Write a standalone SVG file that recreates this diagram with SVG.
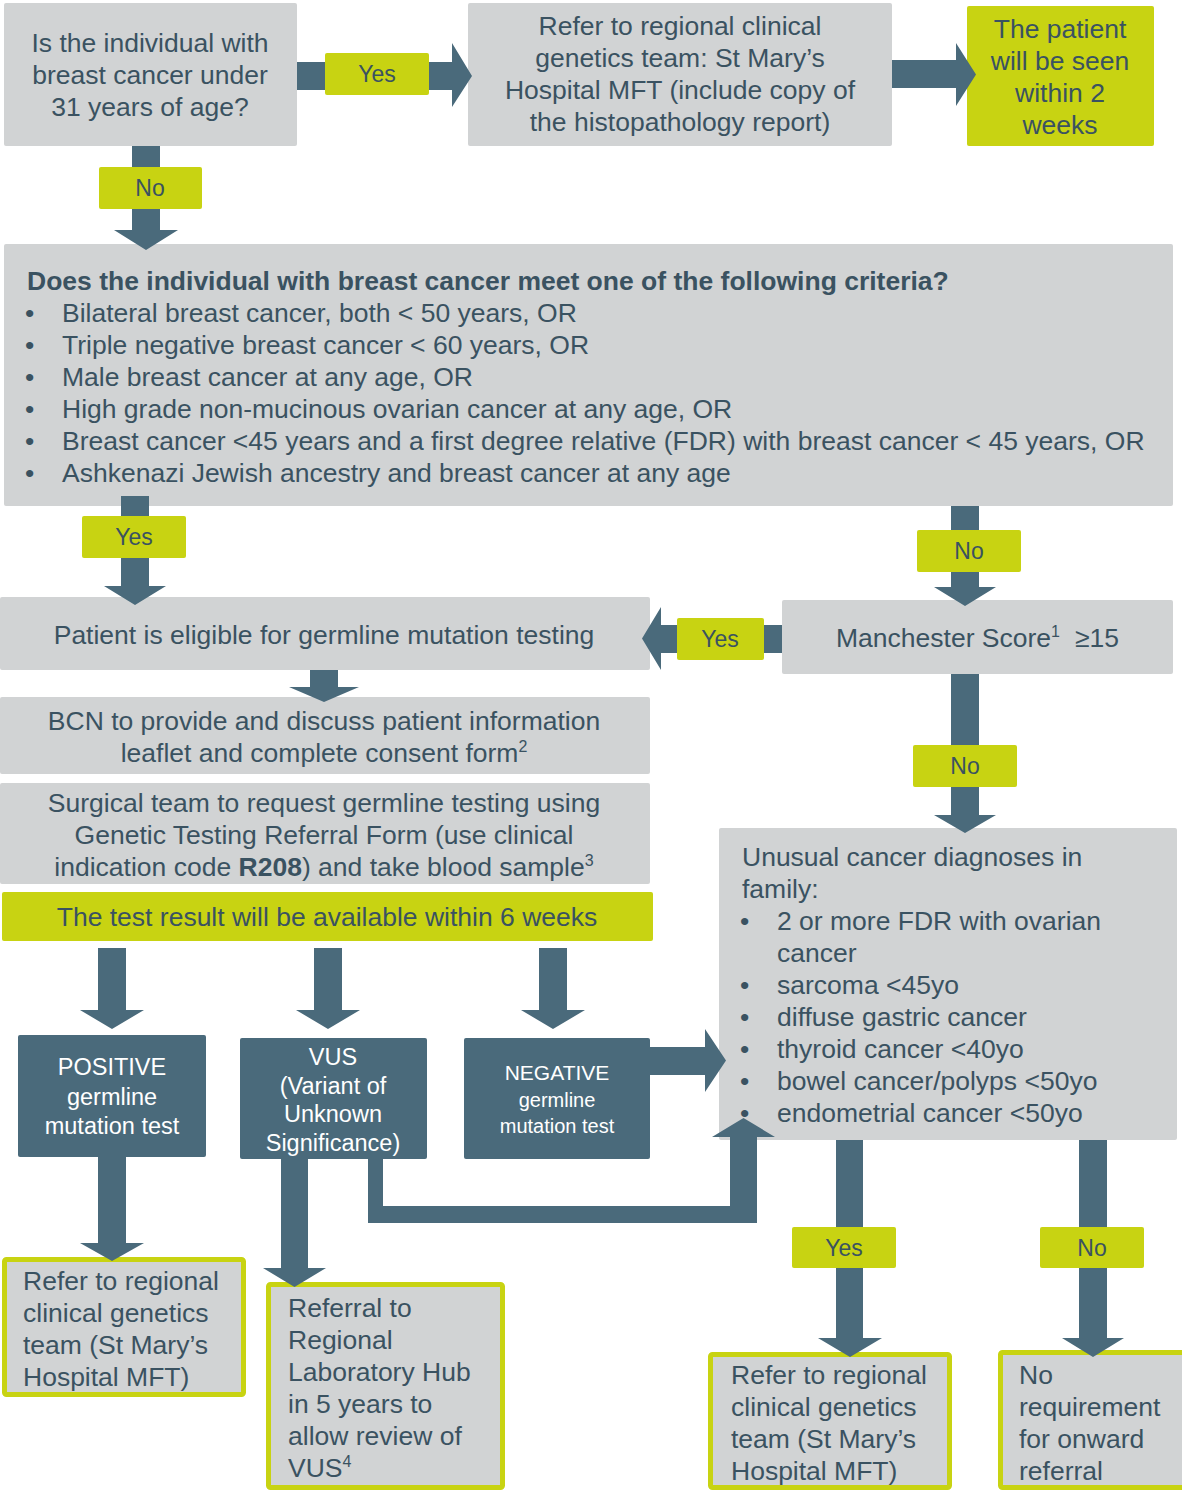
<svg xmlns="http://www.w3.org/2000/svg" width="1182" height="1490" viewBox="0 0 1182 1490">
<style>
text{font-family:"Liberation Sans",Arial,sans-serif;font-size:26.5px;fill:#3A5261}
.c{text-anchor:middle}
.b{font-weight:bold}
.w{fill:#FFFFFF}
.grey{fill:#D1D3D4}
.lime{fill:#C8D312}
.dark{fill:#4A6A7B}
.out{fill:#D1D3D4;stroke:#C8D312;stroke-width:5}
.arrow{fill:#4A6A7B}
.sup{font-size:16px}
.lbl{font-size:23px}
</style>
<defs>
<clipPath id="vusclip"><rect x="240" y="1038" width="187" height="121"/></clipPath>
</defs>
<rect width="1182" height="1490" fill="#FFFFFF"/>

<g id="q31">
<rect class="grey" x="4" y="3" width="293" height="143" rx="2"/>
<text class="c" x="150" y="52">Is the individual with</text>
<text class="c" x="150" y="84">breast cancer under</text>
<text class="c" x="150" y="116">31 years of age?</text>
</g>

<g id="refer-top">
<rect class="grey" x="468" y="3" width="424" height="143" rx="2"/>
<text class="c" x="680" y="35">Refer to regional clinical</text>
<text class="c" x="680" y="67">genetics team: St Mary’s</text>
<text class="c" x="680" y="99">Hospital MFT (include copy of</text>
<text class="c" x="680" y="131">the histopathology report)</text>
</g>

<g id="seen2weeks">
<rect class="lime" x="967" y="6" width="187" height="140" rx="2"/>
<text class="c" x="1060" y="38">The patient</text>
<text class="c" x="1060" y="70">will be seen</text>
<text class="c" x="1060" y="102">within 2</text>
<text class="c" x="1060" y="134">weeks</text>
</g>

<g id="criteria">
<rect class="grey" x="4" y="244" width="1169" height="262" rx="2"/>
<text class="b" x="27" y="290">Does the individual with breast cancer meet one of the following criteria?</text>
<text x="25" y="322">•</text><text x="62" y="322">Bilateral breast cancer, both &lt; 50 years, OR</text>
<text x="25" y="354">•</text><text x="62" y="354">Triple negative breast cancer &lt; 60 years, OR</text>
<text x="25" y="386">•</text><text x="62" y="386">Male breast cancer at any age, OR</text>
<text x="25" y="418">•</text><text x="62" y="418">High grade non-mucinous ovarian cancer at any age, OR</text>
<text x="25" y="450">•</text><text x="62" y="450">Breast cancer &lt;45 years and a first degree relative (FDR) with breast cancer &lt; 45 years, OR</text>
<text x="25" y="482">•</text><text x="62" y="482">Ashkenazi Jewish ancestry and breast cancer at any age</text>
</g>

<g id="eligible">
<rect class="grey" x="0" y="597" width="650" height="73" rx="2"/>
<text class="c" x="324" y="644">Patient is eligible for germline mutation testing</text>
</g>

<g id="manchester">
<rect class="grey" x="782" y="600" width="391" height="74" rx="2"/>
<text x="836" y="647">Manchester Score<tspan class="sup" dy="-10">1</tspan><tspan dy="10" dx="15">≥15</tspan></text>
</g>

<g id="bcn">
<rect class="grey" x="0" y="697" width="650" height="77" rx="2"/>
<text class="c" x="324" y="730">BCN to provide and discuss patient information</text>
<text class="c" x="324" y="762">leaflet and complete consent form<tspan class="sup" dy="-10">2</tspan></text>
</g>

<g id="surgical">
<rect class="grey" x="0" y="783" width="650" height="101" rx="2"/>
<text class="c" x="324" y="812">Surgical team to request germline testing using</text>
<text class="c" x="324" y="844">Genetic Testing Referral Form (use clinical</text>
<text class="c" x="324" y="876">indication code <tspan class="b">R208</tspan>) and take blood sample<tspan class="sup" dy="-10">3</tspan></text>
</g>

<g id="six-weeks">
<rect class="lime" x="2" y="892" width="651" height="49" rx="2"/>
<text class="c" x="327" y="926">The test result will be available within 6 weeks</text>
</g>

<g id="unusual">
<rect class="grey" x="719" y="828" width="458" height="312" rx="2"/>
<text x="742" y="866">Unusual cancer diagnoses in</text>
<text x="742" y="898">family:</text>
<text x="740" y="930">•</text><text x="777" y="930">2 or more FDR with ovarian</text>
<text x="777" y="962">cancer</text>
<text x="740" y="994">•</text><text x="777" y="994">sarcoma &lt;45yo</text>
<text x="740" y="1026">•</text><text x="777" y="1026">diffuse gastric cancer</text>
<text x="740" y="1058">•</text><text x="777" y="1058">thyroid cancer &lt;40yo</text>
<text x="740" y="1090">•</text><text x="777" y="1090">bowel cancer/polyps &lt;50yo</text>
<text x="740" y="1122">•</text><text x="777" y="1122">endometrial cancer &lt;50yo</text>
</g>

<g id="positive">
<rect class="dark" x="18" y="1035" width="188" height="122" rx="2"/>
<text class="c w" x="112" y="1075" style="font-size:23.5px">POSITIVE</text>
<text class="c w" x="112" y="1105" style="font-size:23.5px">germline</text>
<text class="c w" x="112" y="1134" style="font-size:23.5px">mutation test</text>
</g>

<g id="vus">
<rect class="dark" x="240" y="1038" width="187" height="121" rx="2"/>
<g clip-path="url(#vusclip)">
<text class="c w" x="333" y="1065" style="font-size:23.5px">VUS</text>
<text class="c w" x="333" y="1094" style="font-size:23.5px">(Variant of</text>
<text class="c w" x="333" y="1122" style="font-size:23.5px">Unknown</text>
<text class="c w" x="333" y="1151" style="font-size:23.5px">Significance)</text>
</g>
</g>

<g id="negative">
<rect class="dark" x="464" y="1038" width="186" height="121" rx="2"/>
<text class="c w" x="557" y="1080" style="font-size:21px">NEGATIVE</text>
<text class="c w" x="557" y="1107" style="font-size:20px">germline</text>
<text class="c w" x="557" y="1133" style="font-size:20px">mutation test</text>
</g>

<g id="refer-positive">
<rect class="out" x="4.5" y="1259.5" width="239" height="135" rx="2"/>
<text x="23" y="1290">Refer to regional</text>
<text x="23" y="1322">clinical genetics</text>
<text x="23" y="1354">team (St Mary’s</text>
<text x="23" y="1386">Hospital MFT)</text>
</g>

<g id="referral-hub">
<rect class="out" x="268.5" y="1284.5" width="234" height="203" rx="2"/>
<text x="288" y="1317">Referral to</text>
<text x="288" y="1349">Regional</text>
<text x="288" y="1381">Laboratory Hub</text>
<text x="288" y="1413">in 5 years to</text>
<text x="288" y="1445">allow review of</text>
<text x="288" y="1477">VUS<tspan class="sup" dy="-10">4</tspan></text>
</g>

<g id="refer-unusual">
<rect class="out" x="710.5" y="1354.5" width="239" height="133" rx="2"/>
<text x="731" y="1384">Refer to regional</text>
<text x="731" y="1416">clinical genetics</text>
<text x="731" y="1448">team (St Mary’s</text>
<text x="731" y="1480">Hospital MFT)</text>
</g>

<g id="no-referral">
<rect class="out" x="1000.5" y="1352.5" width="190" height="135" rx="2"/>
<text x="1019" y="1384">No</text>
<text x="1019" y="1416">requirement</text>
<text x="1019" y="1448">for onward</text>
<text x="1019" y="1480">referral</text>
</g>

<g id="connectors">
<polygon class="arrow" points="297,62 452,62 452,43 472,76 452,107 452,90 297,90"/>
<polygon class="arrow" points="892,60 956,60 956,43 976,74.5 956,106 956,88 892,88"/>
<polygon class="arrow" points="132,146 160,146 160,230 178,230 146,250 114,230 132,230"/>
<polygon class="arrow" points="121,496 149,496 149,586 166,586 135,605 104,586 121,586"/>
<polygon class="arrow" points="951,506 979,506 979,587 996,587 965,606 934,587 951,587"/>
<polygon class="arrow" points="782,625 661,625 661,607 642,638.5 661,670 661,653 782,653"/>
<polygon class="arrow" points="310,670 338,670 338,687 359,687 324,702 289,687 310,687"/>
<polygon class="arrow" points="951,674 979,674 979,815 996,815 965,833 934,815 951,815"/>
<polygon class="arrow" points="98,948 126,948 126,1010 144,1010 112,1029 80,1010 98,1010"/>
<polygon class="arrow" points="314,948 342,948 342,1010 360,1010 328,1029 296,1010 314,1010"/>
<polygon class="arrow" points="539,948 567,948 567,1010 585,1010 553,1029 521,1010 539,1010"/>
<polygon class="arrow" points="650,1047 705,1047 705,1029 726,1060.5 705,1092 705,1075 650,1075"/>
<polygon class="arrow" points="368,1159 383,1159 383,1206 730,1206 730,1137 712,1137 743.5,1118 775,1137 757,1137 757,1223 368,1223"/>
<polygon class="arrow" points="98,1157 126,1157 126,1243 144,1243 112,1261 80,1243 98,1243"/>
<polygon class="arrow" points="281,1159 308,1159 308,1268 326,1268 294.5,1287 263,1268 281,1268"/>
<polygon class="arrow" points="836,1140 863,1140 863,1338 882,1338 850,1357 818,1338 836,1338"/>
<polygon class="arrow" points="1079,1140 1107,1140 1107,1338 1124,1338 1093,1357 1062,1338 1079,1338"/>

<rect class="lime" x="325" y="53" width="104" height="42" rx="2"/>
<text class="c lbl" x="377" y="82">Yes</text>
<rect class="lime" x="99" y="167" width="103" height="42" rx="2"/>
<text class="c lbl" x="150" y="196">No</text>
<rect class="lime" x="82" y="516" width="104" height="42" rx="2"/>
<text class="c lbl" x="134" y="545">Yes</text>
<rect class="lime" x="917" y="530" width="104" height="42" rx="2"/>
<text class="c lbl" x="969" y="559">No</text>
<rect class="lime" x="677" y="618" width="87" height="42" rx="2"/>
<text class="c lbl" x="720" y="647">Yes</text>
<rect class="lime" x="913" y="745" width="104" height="42" rx="2"/>
<text class="c lbl" x="965" y="774">No</text>
<rect class="lime" x="792" y="1227" width="104" height="41" rx="2"/>
<text class="c lbl" x="844" y="1256">Yes</text>
<rect class="lime" x="1040" y="1227" width="104" height="41" rx="2"/>
<text class="c lbl" x="1092" y="1256">No</text>
</g>
</svg>
